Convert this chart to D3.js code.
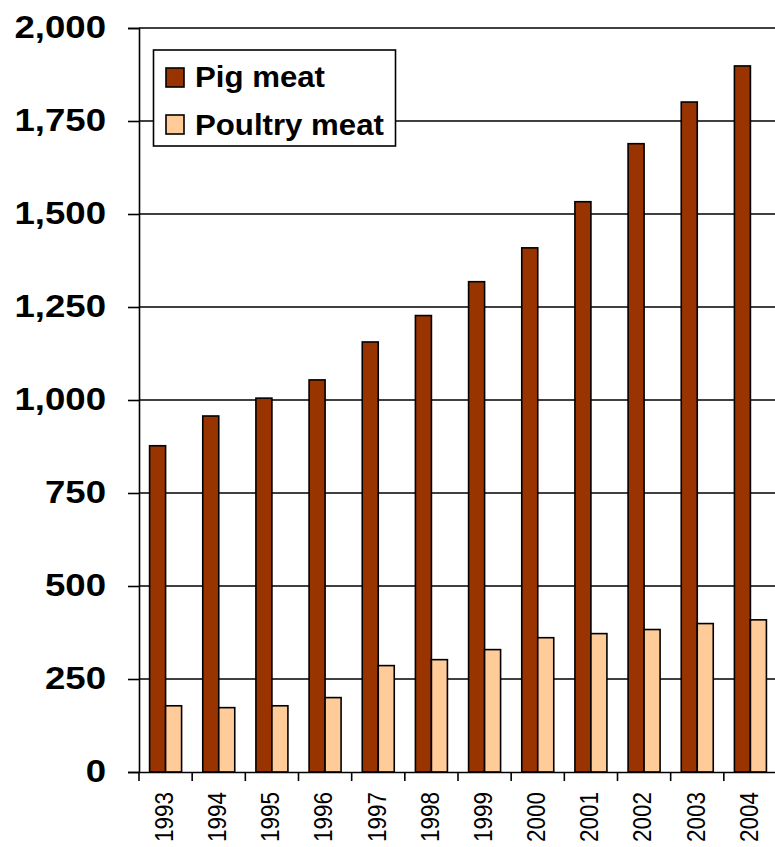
<!DOCTYPE html>
<html>
<head>
<meta charset="utf-8">
<script src="https://cdn.jsdelivr.net/npm/d3@7"></script>
<style>
  body { margin: 0; background: #fff; }
  svg text { font-family: "Liberation Sans", Arial, sans-serif; }
</style>
</head>
<body>
<div id="chart"></div>
<script>
// Data
const years = ["1993","1994","1995","1996","1997","1998","1999","2000","2001","2002","2003","2004"];
const pigMeat = [877, 957, 1005, 1054, 1156, 1227, 1318, 1409, 1533, 1689, 1801, 1898];
const poultryMeat = [178, 173, 178, 200, 286, 302, 329, 361, 372, 383, 399, 409];
const yTicks = [0, 250, 500, 750, 1000, 1250, 1500, 1750, 2000];
const seriesNames = ["Pig meat", "Poultry meat"];
const colors = ["#993300", "#FFCC99"];

const width = 775;
const height = 847;
const svg = d3.select("#chart")
  .append("svg")
  .attr("width", width)
  .attr("height", height);

// Scales
const x = d3.scaleBand()
  .domain(years)
  .range([139, 777]);
const y = d3.scaleLinear()
  .domain([0, 2000])
  .range([772, 28]);
const inner = d3.scaleBand()
  .domain([0, 1])
  .range([x.bandwidth() / 2 - 16, x.bandwidth() / 2 + 16]);

// Gridlines
svg.append("g")
  .selectAll("line")
  .data(yTicks.filter(d => d > 0))
  .join("line")
  .attr("x1", 139)
  .attr("x2", 777)
  .attr("y1", d => y(d))
  .attr("y2", d => y(d))
  .attr("stroke", "#000")
  .attr("stroke-width", 1.6);

// Bars
const table = years.map((yr, i) => ({ year: yr, values: [pigMeat[i], poultryMeat[i]] }));
const groups = svg.append("g")
  .selectAll("g")
  .data(table)
  .join("g")
  .attr("transform", d => `translate(${x(d.year)},0)`);
groups.selectAll("rect")
  .data(d => d.values.map((v, k) => ({ v, k })))
  .join("rect")
  .attr("x", d => inner(d.k))
  .attr("width", inner.bandwidth())
  .attr("y", d => y(d.v))
  .attr("height", d => y(0) - y(d.v))
  .attr("fill", d => colors[d.k])
  .attr("stroke", "#000")
  .attr("stroke-width", 1.6);

// Y axis
const yAxis = svg.append("g")
  .attr("transform", "translate(139,0)")
  .call(d3.axisLeft(y).tickValues(yTicks).tickSize(11).tickFormat(d3.format(",")));
yAxis.select(".domain").attr("stroke-width", 1.6);
yAxis.selectAll(".tick line").attr("stroke-width", 1.6);
yAxis.selectAll("text")
  .attr("x", 0)
  .attr("transform", "translate(-33,0) scale(1.18,1)")
  .attr("font-size", 31)
  .attr("font-weight", "bold")
  .attr("font-family", "Liberation Sans, Arial, sans-serif")
  .attr("fill", "#000");

// X axis
const xAxis = svg.append("g")
  .attr("transform", `translate(0,${y(0)})`)
  .call(d3.axisBottom(x).tickSize(0).tickSizeOuter(0));
xAxis.select(".domain").attr("stroke-width", 1.6);
xAxis.selectAll(".tick text")
  .attr("font-size", 22.5)
  .attr("font-family", "Liberation Sans, Arial, sans-serif")
  .attr("fill", "#000")
  .attr("transform", "translate(-1.5,20) rotate(-90) scale(1,1.12)")
  .attr("text-anchor", "end")
  .attr("x", 0)
  .attr("y", 0)
  .attr("dy", "0.35em");
// category boundary ticks
svg.append("g")
  .selectAll("line")
  .data(years)
  .join("line")
  .attr("x1", d => x(d))
  .attr("x2", d => x(d))
  .attr("y1", y(0))
  .attr("y2", y(0) + 9)
  .attr("stroke", "#000")
  .attr("stroke-width", 1.6);

// Legend
const legend = svg.append("g");
legend.append("rect")
  .attr("x", 153.5)
  .attr("y", 50)
  .attr("width", 242)
  .attr("height", 96)
  .attr("fill", "#fff")
  .attr("stroke", "#000")
  .attr("stroke-width", 1.6);
seriesNames.forEach((name, i) => {
  legend.append("rect")
    .attr("x", 166)
    .attr("y", 68 + i * 47)
    .attr("width", 18)
    .attr("height", 19)
    .attr("fill", colors[i])
    .attr("stroke", "#000")
    .attr("stroke-width", 1.6);
  legend.append("text")
    .attr("transform", `translate(195,${87 + i * 47.5}) scale(1.04,1)`)
    .attr("font-size", 30)
    .attr("font-weight", "bold")
    .text(name);
});
</script>
</body>
</html>
